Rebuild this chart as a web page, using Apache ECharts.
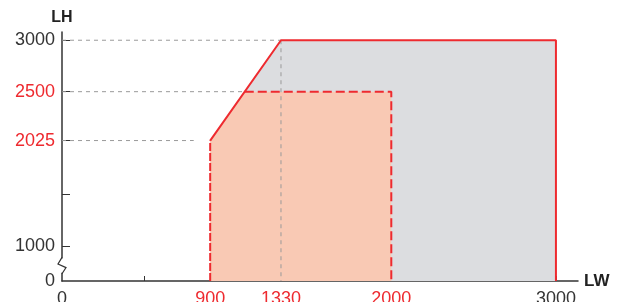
<!DOCTYPE html>
<html>
<head>
<meta charset="utf-8">
<script src="https://cdn.jsdelivr.net/npm/echarts@6.0.0/dist/echarts.min.js"></script>
<style>
  html, body { margin: 0; padding: 0; background: #fff; }
  #chart { width: 619px; height: 302px; }
</style>
</head>
<body>
<div id="chart"></div>
<script>
// outer (grey) working range: LW x LH
const outerRange = [[900, 0], [900, 2025], [1330, 3000], [3000, 3000], [3000, 0]];
// inner (salmon) working range
const innerRange = [[900, 0], [900, 2025], [1110, 2500], [2000, 2500], [2000, 0]];
// red outline pieces
const solidEdge = [[900, 2025], [1330, 3000], [3000, 3000], [3000, 0]];
const dashedEdgeLeft = [[900, 0], [900, 2025]];
const dashedEdgeInner = [[1110, 2500], [2000, 2500], [2000, 0]];
// grey guide lines
const guide3000 = [[0, 3000], [1330, 3000]];
const guide1330 = [[1330, 3000], [1330, 0]];
const guide2500 = [[0, 2500], [1110, 2500]];
const guide2025 = [[0, 2025], [800, 2025]];

const xTicks = [500, 1000, 1500, 2000, 2500, 3000];
const xLabels = [0, 900, 1330, 2000, 3000];
const xRedLabels = [900, 1330, 2000];
const yTicks = [1000, 1500, 2025, 2500, 3000];
const yLabels = [0, 1000, 2025, 2500, 3000];
const yRedLabels = [2025, 2500];

const RED = '#ee2a2f';
const GREY_FILL = '#dcdde0';
const SALMON = '#f9c9b4';
const GUIDE = '#9a9a9a';
const AXIS = '#333';
const FONT = 'Liberation Sans, Arial, sans-serif';

const chart = echarts.init(document.getElementById('chart'));

function areaSeries(data, color, z) {
  return {
    type: 'line', data: data, symbol: 'none', z: z,
    lineStyle: { width: 0 },
    areaStyle: { color: color, opacity: 1 }
  };
}
function lineSeries(data, color, width, type, z) {
  return {
    type: 'line', data: data, symbol: 'none', z: z,
    lineStyle: { color: color, width: width, type: type }
  };
}
// red or dark label via rich text
function labelFmt(redList) {
  return v => (redList.includes(v) ? '{r|' : '{k|') + v + '}';
}
const labelRich = {
  r: { color: RED, fontSize: 18, fontFamily: FONT },
  k: { color: '#333', fontSize: 18, fontFamily: FONT }
};

const option = {
  animation: false,
  grid: { left: 62, right: 41, top: 32, bottom: 21, outerBoundsMode: 'none' },
  xAxis: {
    type: 'value', min: 0, max: 3134,
    name: 'LW', nameLocation: 'end', nameGap: 6,
    nameTextStyle: { fontFamily: FONT, fontWeight: 'bold', fontSize: 17, color: '#222', verticalAlign: 'middle', padding: [5, 0, 0, 0] },
    splitLine: { show: false },
    axisLine: { lineStyle: { color: AXIS, width: 1.5 } },
    axisTick: { inside: true, length: 5, customValues: xTicks, lineStyle: { color: AXIS, width: 1 } },
    axisLabel: {
      customValues: xLabels, margin: 9, fontSize: 18, fontFamily: FONT,
      formatter: labelFmt(xRedLabels), rich: labelRich
    }
  },
  yAxis: {
    type: 'value', min: 0, max: 3080,
    name: 'LH', nameLocation: 'end', nameGap: 6,
    nameTextStyle: { fontFamily: FONT, fontWeight: 'bold', fontSize: 16, color: '#222', align: 'center' },
    breaks: [{ start: 100, end: 860, gap: 100 }],
    breakArea: { show: false },
    splitLine: { show: false },
    axisLine: { lineStyle: { color: AXIS, width: 1.5 } },
    axisTick: { inside: true, length: 8, customValues: yTicks, lineStyle: { color: AXIS, width: 1 } },
    axisLabel: {
      customValues: yLabels, margin: 7, fontSize: 18, fontFamily: FONT,
      formatter: labelFmt(yRedLabels), rich: labelRich
    }
  },
  series: [
    areaSeries(outerRange, GREY_FILL, 1),
    areaSeries(innerRange, SALMON, 2),
    lineSeries(guide3000, GUIDE, 1, [4, 4], 3),
    lineSeries(guide2500, GUIDE, 1, [4, 4], 3),
    lineSeries(guide2025, GUIDE, 1, [4, 4], 3),
    lineSeries(guide1330, GUIDE, 1, [4, 4], 3),
    lineSeries(dashedEdgeLeft, RED, 2, [8, 2], 4),
    lineSeries(dashedEdgeInner, RED, 2, [9, 4], 4),
    lineSeries(solidEdge, RED, 2, 'solid', 5)
  ]
};
chart.setOption(option);

// zigzag break marker on the y axis line
const axisX = chart.convertToPixel({ xAxisIndex: 0 }, 0);
const yLo = chart.convertToPixel({ yAxisIndex: 0 }, 100);
const yHi = chart.convertToPixel({ yAxisIndex: 0 }, 860);
const zTop = Math.min(yLo, yHi), zBot = Math.max(yLo, yHi);
chart.setOption({
  graphic: [
    { type: 'rect', shape: { x: axisX - 4, y: zTop - 2, width: 8, height: zBot - zTop + 4 }, style: { fill: '#fff' }, z: 100 },
    { type: 'polyline', z: 101,
      shape: { points: [[axisX, zTop - 3], [axisX - 4, zTop + (zBot - zTop) * 0.35], [axisX + 4, zTop + (zBot - zTop) * 0.7], [axisX, zBot + 3]] },
      style: { stroke: AXIS, lineWidth: 1.2, fill: null } }
  ]
});
</script>
</body>
</html>
